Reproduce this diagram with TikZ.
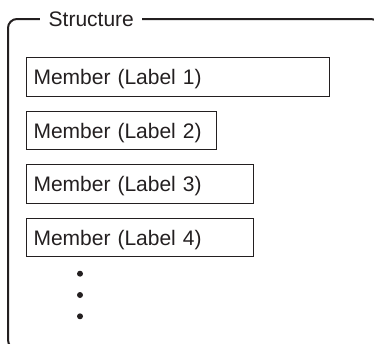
\documentclass[tikz,border=0pt]{standalone}
\usepackage{fontspec}
\setmainfont{Liberation Sans}
\definecolor{ink}{RGB}{35,31,32}
\begin{document}
\begin{tikzpicture}[x=1pt,y=-1pt,
  frame/.style={draw=ink,line width=2pt,rounded corners=9pt},
  member/.style={draw=ink,line width=1.1pt,anchor=north west,minimum height=38.5pt,
    inner xsep=7pt,inner ysep=0pt,align=left,text height=15.3pt,text depth=0pt,
    font=\fontsize{21}{25}\selectfont,text=ink},
  title/.style={fill=white,anchor=west,inner xsep=8.5pt,inner ysep=1pt,
    text height=15.3pt,text depth=0pt,font=\fontsize{21}{25}\selectfont,text=ink},
  dotmark/.style={circle,fill=ink,inner sep=0pt,minimum size=6pt}]
\useasboundingbox (0,0) rectangle (374,343);
\begin{scope}
\clip (0,0) rectangle (374,343);
\draw[frame] (8,19) rectangle (380,349);
\end{scope}
\node[title] (title) at (40,19) {Structure};
\node[member,minimum width=303pt,text width=289pt] (m1) at (26,57) {Member (Label 1)};
\node[member,minimum width=190pt,text width=176pt] (m2) at (26,110.7) {Member (Label 2)};
\node[member,minimum width=227pt,text width=213pt] (m3) at (26,164.3) {Member (Label 3)};
\node[member,minimum width=227pt,text width=213pt] (m4) at (26,217.7) {Member (Label 4)};
\node[dotmark] (d1) at (80,273.7) {};
\node[dotmark] (d2) at (80,295) {};
\node[dotmark] (d3) at (80,316.3) {};
\end{tikzpicture}
\end{document}
